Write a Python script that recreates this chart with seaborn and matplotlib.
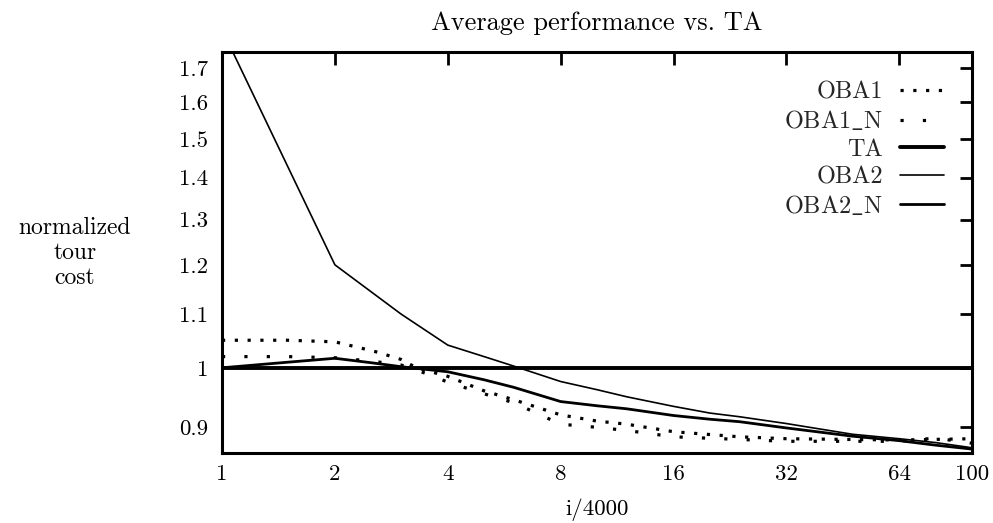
import matplotlib
matplotlib.use("Agg")
import matplotlib.pyplot as plt
import seaborn as sns
import numpy as np
import pandas as pd

# ---- data ----
x_ta = [1, 100]
ta = [1.0, 1.0]

x_oba2 = [1, 2, 3, 4, 5, 6, 8, 10, 12, 16, 20, 24, 32, 48, 64, 80, 100]
oba2 = [1.82, 1.20, 1.10, 1.041, 1.020, 1.003, 0.976, 0.962, 0.950, 0.934,
        0.923, 0.917, 0.906, 0.889, 0.882, 0.876, 0.868]

x_oba2n = [1, 1.5, 2, 2.5, 3, 4, 5, 6, 8, 10, 12, 16, 20, 24, 32, 48, 64, 80, 100]
oba2n = [1.0, 1.010, 1.017, 1.009, 1.002, 0.993, 0.979, 0.966, 0.942, 0.935,
         0.930, 0.919, 0.913, 0.909, 0.899, 0.886, 0.879, 0.872, 0.866]

x_oba1 = [1, 1.5, 2, 2.3, 2.6, 3, 3.3, 4, 5, 6, 8, 10, 12, 16, 24, 32, 64, 100]
oba1 = [1.05, 1.05, 1.047, 1.037, 1.028, 1.015, 1.0, 0.985, 0.96, 0.945,
        0.92, 0.91, 0.905, 0.893, 0.885, 0.882, 0.880, 0.882]

x_oba1n = [1, 1.5, 2, 2.5, 3, 3.5, 4, 5, 6, 8, 10, 12, 16, 32, 64, 80, 100]
oba1n = [1.02, 1.02, 1.018, 1.012, 1.005, 0.99, 0.975, 0.955, 0.94, 0.905,
         0.90, 0.895, 0.885, 0.878, 0.878, 0.883, 0.875]

x_ticks = [1, 2, 4, 8, 16, 32, 64, 100]
x_ticklabels = ["1", "2", "4", "8", "16", "32", "64", "100"]
y_ticks = [0.9, 1.0, 1.1, 1.2, 1.3, 1.4, 1.5, 1.6, 1.7]
y_ticklabels = ["0.9", "1", "1.1", "1.2", "1.3", "1.4", "1.5", "1.6", "1.7"]

title = "Average performance vs. TA"
xlabel = "i/4000"
ylabel = "normalized\ntour\ncost"
names = ["OBA1", "OBA1$\\_$N", "TA", "OBA2", "OBA2$\\_$N"]

# ---- style ----
sns.set_theme(style="white")
plt.rcParams["font.family"] = ["cmr10", "DejaVu Serif"]
plt.rcParams["mathtext.fontset"] = "cm"
plt.rcParams["axes.formatter.use_mathtext"] = True
plt.rcParams["axes.unicode_minus"] = False

fig = plt.figure(figsize=(9.93, 5.23), dpi=100)
ax = fig.add_axes([222 / 993, 1 - 453 / 523, 750 / 993, 401 / 523])

series = [
    (names[0], x_oba1, oba1, dict(linewidth=2.3, linestyle=(0, (1, 3.0)), dash_capstyle="butt")),
    (names[1], x_oba1n, oba1n, dict(linewidth=2.3, linestyle=(0, (1, 6.0)), dash_capstyle="butt")),
    (names[2], x_ta, ta, dict(linewidth=2.8, linestyle="-")),
    (names[3], x_oba2, oba2, dict(linewidth=1.2, linestyle="-")),
    (names[4], x_oba2n, oba2n, dict(linewidth=2.0, linestyle="-")),
]
for name, xs, ys, kw in series:
    df = pd.DataFrame({"x": xs, "y": ys})
    sns.lineplot(data=df, x="x", y="y", ax=ax, color="black", label=name,
                 estimator=None, sort=True, **kw)

ax.set_xscale("log", base=2)
ax.set_yscale("log")
ax.set_xlim(1, 100)
ax.set_ylim(0.86, 1.749)
ax.set_xticks(x_ticks)
ax.set_xticklabels(x_ticklabels)
ax.set_yticks(y_ticks)
ax.set_yticklabels(y_ticklabels)
ax.minorticks_off()
ax.tick_params(axis="both", which="major", direction="in", length=9, width=2,
               color="black", labelsize=16.5, top=True, right=True,
               labelcolor="black")
ax.tick_params(axis="y", pad=10)
ax.tick_params(axis="x", pad=8)
for sp in ax.spines.values():
    sp.set_visible(True)
    sp.set_color("black")
    sp.set_linewidth(2.2)
ax.grid(False)

ax.set_title(title, fontsize=19, pad=16, color="black")
ax.set_xlabel(xlabel, fontsize=16.5, labelpad=10.5, color="black")
ax.set_ylabel(ylabel, fontsize=17, rotation=0, ha="center", va="center",
              linespacing=1.15, color="black")
ax.yaxis.set_label_coords(-0.196, 0.499)

leg = ax.legend(loc="upper right", bbox_to_anchor=(0.975, 0.95), frameon=False,
                fontsize=17.5, markerfirst=False, handlelength=1.8,
                handletextpad=0.7, labelspacing=0.22, borderaxespad=0)
for t in leg.get_texts():
    t.set_ha("right")

fig.savefig("out.png", dpi=100)
